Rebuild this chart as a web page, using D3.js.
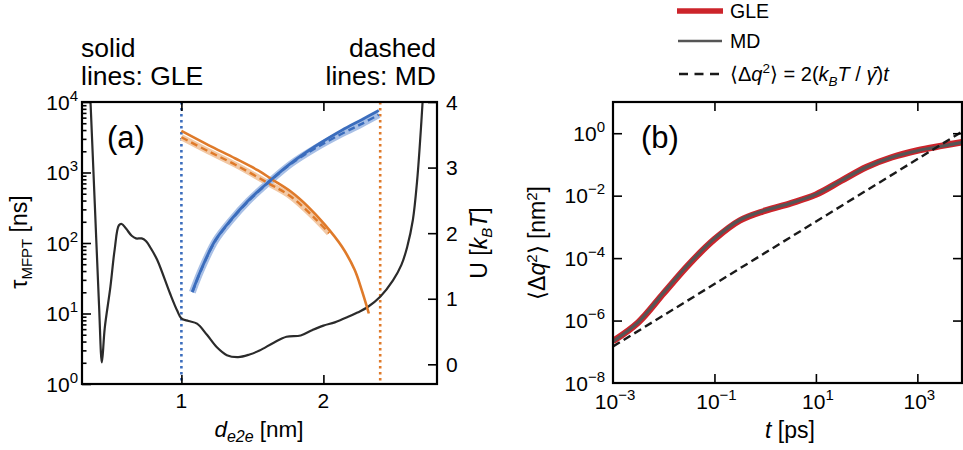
<!DOCTYPE html>
<html>
<head>
<meta charset="utf-8">
<script src="https://d3js.org/d3.v7.min.js"></script>
<style>
  body { margin: 0; background: #fff; }
  svg { font-family: "Liberation Sans", Arial, sans-serif; }
  .tick line { stroke: #000; stroke-width: 1.6; }
  .domain { display: none; }
  .spine { fill: none; stroke: #000; stroke-width: 2.2; }
</style>
</head>
<body>
<svg id="fig" width="963" height="450"></svg>
<script>
// ---- panel (a) data ----
var uX = [0.33, 0.36, 0.39, 0.42, 0.44, 0.46, 0.50, 0.53, 0.56, 0.58, 0.61, 0.65, 0.68, 0.72, 0.75, 0.79, 0.83, 0.92, 0.97, 1.00,
          1.05, 1.11, 1.18, 1.25, 1.32, 1.40, 1.48, 1.55, 1.65, 1.74, 1.84, 1.92, 2.00, 2.08, 2.17, 2.24, 2.31, 2.40, 2.49,
          2.55, 2.59, 2.63, 2.66, 2.69, 2.72];
var uVal = [5.5, 4.0, 2.45, 0.9, 0.03, 0.55, 1.18, 1.75, 2.12, 2.14, 2.07, 1.96, 1.92, 1.92, 1.88, 1.75, 1.59, 1.08, 0.82, 0.70,
            0.66, 0.62, 0.45, 0.26, 0.14, 0.11, 0.15, 0.21, 0.33, 0.42, 0.44, 0.52, 0.59, 0.64, 0.72, 0.79, 0.87, 1.03, 1.28,
            1.52, 1.79, 2.2, 2.8, 3.7, 4.8];

var blueX      = [1.077, 1.147, 1.24, 1.35, 1.47, 1.61, 1.77, 1.94, 2.13, 2.27, 2.39];
var blueGLE    = [20.4, 45.7, 110, 214, 398, 724, 1350, 2340, 3980, 5620, 7590];
var blueMD     = [20, 45, 108, 210, 390, 710, 1320, 2190, 3550, 4900, 6600];

var orangeX    = [1.00, 1.19, 1.38, 1.54, 1.64, 1.77, 1.89, 2.01, 2.13, 2.22, 2.27, 2.32];
var orangeGLE  = [3890, 2450, 1580, 1070, 794, 537, 331, 182, 89, 41.7, 21.4, 10];
var orangeMDX  = [1.00, 1.19, 1.38, 1.61, 1.77, 1.94, 2.04];
var orangeMD   = [3160, 2000, 1290, 708, 457, 224, 138];

var boundX = [1.0, 2.4];   // dotted boundaries
var aXTicks = [1, 2];
var aLeftTicks = [1, 10, 100, 1000, 10000];
var aLeftExp = ["0", "1", "2", "3", "4"];
var aRightTicks = [0, 1, 2, 3, 4];

// ---- panel (b) data ----
var msdT   = [1e-3, 3.16e-3, 1e-2, 3.16e-2, 0.1, 0.316, 1, 3.16, 10, 31.6, 100, 316, 1000, 3160, 7590];
var msdMD  = [2.14e-7, 8.9e-7, 7.9e-6, 6.6e-5, 4.2e-4, 1.66e-3, 3.39e-3, 5.75e-3, 1.10e-2, 3.02e-2, 8.3e-2, 0.17, 0.275, 0.39, 0.51];
var msdGLE = [2.2e-7, 8.8e-7, 7.6e-6, 6.4e-5, 4.0e-4, 1.60e-3, 3.30e-3, 5.7e-3, 1.08e-2, 3.0e-2, 8.3e-2, 0.17, 0.28, 0.40, 0.52];
var diffT  = [1e-3, 7590];
var diffY  = [1.48e-7, 1.12];
var bXTicks = [1e-3, 1e-1, 1e1, 1e3];
var bXExp = ["\u22123", "\u22121", "1", "3"];
var bYTicks = [1e-8, 1e-6, 1e-4, 1e-2, 1];
var bYExp = ["\u22128", "\u22126", "\u22124", "\u22122", "0"];

var blue = "#3b6dbd", blueLight = "#a9c0e6", orange = "#df7a2a", orangeLight = "#f2c9a6";
var red = "#cc242b", grey = "#555555";

var svg = d3.select("#fig");

// ================= panel (a) =================
var A = {l: 82, r: 437, t: 102, b: 384};
var xa = d3.scaleLinear().domain([0.3, 2.8]).range([A.l, A.r]);
var ya = d3.scaleLog().domain([1, 1e4]).range([A.b, A.t]);
var ua = d3.scaleLinear().domain([-0.3, 4]).range([A.b, A.t]);

svg.append("clipPath").attr("id", "clipA").append("rect")
  .attr("x", A.l).attr("y", A.t).attr("width", A.r - A.l).attr("height", A.b - A.t);

var ga = svg.append("g").attr("clip-path", "url(#clipA)");

// dotted boundaries
ga.selectAll(".bound").data(boundX).enter().append("line")
  .attr("x1", function(d) { return xa(d); }).attr("x2", function(d) { return xa(d); })
  .attr("y1", A.t).attr("y2", A.b)
  .attr("stroke", function(d, i) { return i === 0 ? blue : orange; })
  .attr("stroke-width", 2.6).attr("stroke-dasharray", "2.4,3.6");

// potential
var uLine = d3.line().curve(d3.curveCatmullRom.alpha(0.5))
  .x(function(d, i) { return xa(uX[i]); }).y(function(d) { return ua(d); });
ga.append("path").attr("d", uLine(uVal)).attr("fill", "none").attr("stroke", "#2b2b2b").attr("stroke-width", 2.2);

function tauLine(xs) {
  return d3.line().curve(d3.curveCatmullRom.alpha(0.5))
    .x(function(d, i) { return xa(xs[i]); }).y(function(d) { return ya(d); });
}

// MD bands + dashed, GLE solid
ga.append("path").attr("d", tauLine(orangeMDX)(orangeMD)).attr("fill", "none")
  .attr("stroke", orangeLight).attr("stroke-width", 6);
ga.append("path").attr("d", tauLine(blueX)(blueMD)).attr("fill", "none")
  .attr("stroke", blueLight).attr("stroke-width", 7);
ga.append("path").attr("d", tauLine(orangeMDX)(orangeMD)).attr("fill", "none")
  .attr("stroke", orange).attr("stroke-width", 2.4).attr("stroke-dasharray", "7,4");
ga.append("path").attr("d", tauLine(orangeX)(orangeGLE)).attr("fill", "none")
  .attr("stroke", orange).attr("stroke-width", 2.6);
ga.append("path").attr("d", tauLine(blueX)(blueGLE)).attr("fill", "none")
  .attr("stroke", blue).attr("stroke-width", 2.8);
ga.append("path").attr("d", tauLine(blueX)(blueMD)).attr("fill", "none")
  .attr("stroke", blue).attr("stroke-width", 2.4).attr("stroke-dasharray", "7,4");

// ticks (inward)
var minorA = [];
for (var e = 0; e < 4; e++) for (var m = 2; m < 10; m++) minorA.push(m * Math.pow(10, e));
svg.append("g").attr("transform", "translate(" + A.l + ",0)")
  .call(d3.axisLeft(ya).tickValues(aLeftTicks).tickSize(-9).tickFormat(""));
svg.append("g").attr("transform", "translate(" + A.l + ",0)")
  .call(d3.axisLeft(ya).tickValues(minorA).tickSize(-4.5).tickFormat(""));
svg.append("g").attr("transform", "translate(" + A.r + ",0)")
  .call(d3.axisRight(ua).tickValues(aRightTicks).tickSize(-9).tickFormat(""));
svg.append("g").attr("transform", "translate(0," + A.b + ")")
  .call(d3.axisBottom(xa).tickValues(aXTicks).tickSize(-9).tickFormat(""));
svg.append("g").attr("transform", "translate(0," + A.t + ")")
  .call(d3.axisTop(xa).tickValues(aXTicks).tickSize(-9).tickFormat(""));

svg.append("rect").attr("class", "spine")
  .attr("x", A.l).attr("y", A.t).attr("width", A.r - A.l).attr("height", A.b - A.t);

function pow10(x, y, exp, anchor) {
  var t = svg.append("text").attr("x", x).attr("y", y).attr("text-anchor", anchor)
    .style("font-size", "21px");
  t.append("tspan").text("10");
  t.append("tspan").attr("dy", -9).style("font-size", "15px").text(exp);
  return t;
}

aLeftTicks.forEach(function(d, i) { pow10(78, ya(d) + 7.5, aLeftExp[i], "end"); });
aRightTicks.forEach(function(d) {
  svg.append("text").attr("x", 446).attr("y", ua(d) + 7.5).style("font-size", "21px").text(d);
});
aXTicks.forEach(function(d) {
  svg.append("text").attr("x", xa(d)).attr("y", 408).attr("text-anchor", "middle")
    .style("font-size", "21px").text(d);
});

// labels panel (a)
var xl = svg.append("text").attr("x", 259).attr("y", 437).attr("text-anchor", "middle").style("font-size", "22.5px");
xl.append("tspan").style("font-style", "italic").text("d");
xl.append("tspan").attr("dy", 5).style("font-size", "16px").style("font-style", "italic").text("e2e");
xl.append("tspan").attr("dy", -5).text(" [nm]");

var yl = svg.append("text").attr("transform", "translate(27,242) rotate(-90)")
  .attr("text-anchor", "middle").style("font-size", "23px");
yl.append("tspan").text("\u03c4");
yl.append("tspan").attr("dy", 5).style("font-size", "15px").text("MFPT");
yl.append("tspan").attr("dy", -5).text(" [ns]");

var ul = svg.append("text").attr("transform", "translate(487,243) rotate(-90)")
  .attr("text-anchor", "middle").style("font-size", "23px");
ul.append("tspan").text("U [");
ul.append("tspan").style("font-style", "italic").text("k");
ul.append("tspan").attr("dy", 5).style("font-size", "15px").style("font-style", "italic").text("B");
ul.append("tspan").attr("dy", -5).style("font-style", "italic").text("T");
ul.append("tspan").text("]");

svg.append("text").attr("x", 81).attr("y", 57).style("font-size", "26.5px").text("solid");
svg.append("text").attr("x", 81).attr("y", 85).style("font-size", "26.5px").text("lines: GLE");
svg.append("text").attr("x", 436).attr("y", 57).attr("text-anchor", "end").style("font-size", "26.5px").text("dashed");
svg.append("text").attr("x", 436).attr("y", 85).attr("text-anchor", "end").style("font-size", "26.5px").text("lines: MD");
svg.append("text").attr("x", 107).attr("y", 148).style("font-size", "31px").text("(a)");

// ================= panel (b) =================
var B = {l: 613, r: 962, t: 102, b: 383};
var xb = d3.scaleLog().domain([1e-3, Math.pow(10, 3.88)]).range([B.l, B.r]);
var yb = d3.scaleLog().domain([1e-8, 10]).range([B.b, B.t]);

svg.append("clipPath").attr("id", "clipB").append("rect")
  .attr("x", B.l).attr("y", B.t).attr("width", B.r - B.l).attr("height", B.b - B.t);
var gb = svg.append("g").attr("clip-path", "url(#clipB)");

var msdLine = d3.line().curve(d3.curveCatmullRom.alpha(0.5))
  .x(function(d) { return xb(d[0]); }).y(function(d) { return yb(d[1]); });

gb.append("path").attr("d", msdLine(d3.zip(msdT, msdGLE))).attr("fill", "none")
  .attr("stroke", red).attr("stroke-width", 6.5);
gb.append("path").attr("d", msdLine(d3.zip(msdT, msdMD))).attr("fill", "none")
  .attr("stroke", grey).attr("stroke-width", 3.2);
gb.append("path").attr("d", d3.line().x(function(d) { return xb(d[0]); }).y(function(d) { return yb(d[1]); })(d3.zip(diffT, diffY)))
  .attr("fill", "none").attr("stroke", "#1a1a1a").attr("stroke-width", 2.4).attr("stroke-dasharray", "8,4.5");

svg.append("g").attr("transform", "translate(" + B.l + ",0)")
  .call(d3.axisLeft(yb).tickValues(bYTicks.slice(1)).tickSize(-9).tickFormat(""));
svg.append("g").attr("transform", "translate(" + B.r + ",0)")
  .call(d3.axisRight(yb).tickValues(bYTicks.slice(1)).tickSize(-9).tickFormat(""));
svg.append("g").attr("transform", "translate(0," + B.b + ")")
  .call(d3.axisBottom(xb).tickValues(bXTicks.slice(1)).tickSize(-9).tickFormat(""));
svg.append("g").attr("transform", "translate(0," + B.t + ")")
  .call(d3.axisTop(xb).tickValues(bXTicks.slice(1)).tickSize(-9).tickFormat(""));

svg.append("rect").attr("class", "spine")
  .attr("x", B.l).attr("y", B.t).attr("width", B.r - B.l).attr("height", B.b - B.t);

bYTicks.forEach(function(d, i) { pow10(605, yb(d) + 7.5, bYExp[i], "end"); });
bXTicks.forEach(function(d, i) { pow10(xb(d) + 2, 409, bXExp[i], "middle"); });

var tl = svg.append("text").attr("x", 790).attr("y", 438).attr("text-anchor", "middle").style("font-size", "23px");
tl.append("tspan").style("font-style", "italic").text("t");
tl.append("tspan").text(" [ps]");

var ml = svg.append("text").attr("transform", "translate(545,243) rotate(-90)")
  .attr("text-anchor", "middle").style("font-size", "23px");
ml.append("tspan").text("\u27e8\u0394");
ml.append("tspan").style("font-style", "italic").text("q");
ml.append("tspan").attr("dy", -8).style("font-size", "15px").text("2");
ml.append("tspan").attr("dy", 8).text("\u27e9 [nm");
ml.append("tspan").attr("dy", -8).style("font-size", "15px").text("2");
ml.append("tspan").attr("dy", 8).text("]");

svg.append("text").attr("x", 641).attr("y", 148).style("font-size", "31px").text("(b)");

// legend
var lg = svg.append("g");
lg.append("line").attr("x1", 677).attr("x2", 723).attr("y1", 11).attr("y2", 11)
  .attr("stroke", red).attr("stroke-width", 5.5);
lg.append("line").attr("x1", 678).attr("x2", 722).attr("y1", 41).attr("y2", 41)
  .attr("stroke", grey).attr("stroke-width", 2.6);
lg.append("line").attr("x1", 679).attr("x2", 720).attr("y1", 74).attr("y2", 74)
  .attr("stroke", "#1a1a1a").attr("stroke-width", 2.4).attr("stroke-dasharray", "9,6.5");
lg.append("text").attr("x", 730).attr("y", 18).style("font-size", "19.5px").text("GLE");
lg.append("text").attr("x", 730).attr("y", 48).style("font-size", "19.5px").text("MD");
var ft = lg.append("text").attr("x", 730).attr("y", 81).style("font-size", "20px");
ft.append("tspan").text("\u27e8\u0394");
ft.append("tspan").style("font-style", "italic").text("q");
ft.append("tspan").attr("dy", -8).style("font-size", "13.5px").text("2");
ft.append("tspan").attr("dy", 8).text("\u27e9 = 2(");
ft.append("tspan").style("font-style", "italic").text("k");
ft.append("tspan").attr("dy", 5).style("font-size", "13.5px").style("font-style", "italic").text("B");
ft.append("tspan").attr("dy", -5).style("font-style", "italic").text("T");
ft.append("tspan").text(" / ");
ft.append("tspan").style("font-style", "italic").text("\u03b3\u0304");
ft.append("tspan").text(")");
ft.append("tspan").style("font-style", "italic").text("t");
</script>
</body>
</html>
